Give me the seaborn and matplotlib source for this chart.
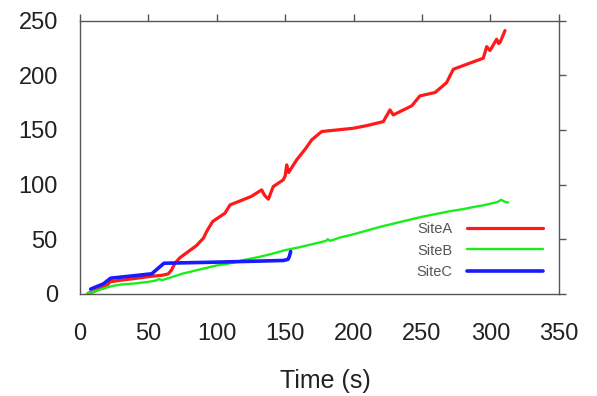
import matplotlib
matplotlib.use("Agg")
import matplotlib.pyplot as plt
import seaborn as sns
import pandas as pd

# ---- data ----
siteA_t = [6, 10, 15, 20, 22, 30, 40, 51, 60, 64.6, 67, 69.4, 73, 79.2, 85, 90.2, 93, 97,
           106, 109.7, 115, 125, 132.8, 135, 137.7, 141.3, 148.6, 150, 151.1, 152.5, 153.5,
           158.4, 165, 169.4, 176.7, 199.8, 210, 221.7, 226.6, 229, 242.5, 248.5, 259.5,
           265, 268, 272.9, 294.8, 297.3, 299.7, 304.6, 306, 307, 310.7]
siteA_v = [0.5, 2, 5, 8, 11, 12.5, 14, 15.9, 17, 18.3, 22, 28, 33, 38.7, 44, 50.9, 58, 66.2,
           73.8, 81.4, 84, 89, 95.1, 90, 86.6, 98.2, 104.3, 108, 118, 111, 113,
           122.6, 133, 140.9, 148.5, 151.5, 154, 157.6, 168.3, 163.7, 172, 181.1, 184.2,
           190, 193.3, 205.5, 215.6, 226.2, 222.6, 233, 229, 229.9, 240.9]

siteB_t = [5, 10, 15, 20, 25, 30, 40, 50, 55, 58, 60, 65, 75, 85, 95, 100, 110, 120, 130,
           140, 150, 160, 170, 180, 181, 183, 190, 200, 210, 220, 230, 240, 250, 260, 270,
           280, 290, 295, 300, 305, 308, 310, 313]
siteB_v = [0, 2, 4, 6, 7.5, 8.5, 9.5, 11, 12, 13.5, 12.5, 14.5, 18.5, 21.5, 24.5, 26, 28,
           31, 33.5, 36.5, 40, 42.5, 45.5, 48.5, 50, 48.5, 51.5, 54.5, 58, 61.5, 64.5, 67.5,
           70.5, 73, 75.5, 77.5, 80, 81, 82.5, 84, 86, 84.5, 83.5]

siteC_t = [7.8, 12, 17.1, 22.4, 52.4, 61.4, 100, 148.6, 152, 153, 154]
siteC_v = [4.3, 6.5, 9.1, 14.3, 18.3, 28, 29, 30.5, 31.5, 34.1, 38.7]

sites = ["SiteA", "SiteB", "SiteC"]
colors = {"SiteA": "#ff1a1a", "SiteB": "#1aee1a", "SiteC": "#1a1aff"}
widths = {"SiteA": 2.3, "SiteB": 1.7, "SiteC": 2.6}

df = pd.concat([
    pd.DataFrame({"time": siteA_t, "value": siteA_v, "site": "SiteA"}),
    pd.DataFrame({"time": siteB_t, "value": siteB_v, "site": "SiteB"}),
    pd.DataFrame({"time": siteC_t, "value": siteC_v, "site": "SiteC"}),
])

sns.set_style("white")
plt.rcParams["font.family"] = ["Liberation Sans", "DejaVu Sans"]

fig = plt.figure(figsize=(5.97, 3.96), dpi=100)
ax = fig.add_axes([0.134, 0.258, 0.802, 0.690])

for s in sites:
    sns.lineplot(data=df[df["site"] == s], x="time", y="value", color=colors[s],
                 linewidth=widths[s], sort=False, estimator=None, ax=ax, label=s)

ax.set_xlim(0, 350)
ax.set_ylim(0, 250)
ax.set_xticks(range(0, 351, 50))
ax.set_yticks(range(0, 251, 50))
ax.set_ylabel("")
ax.set_xlabel("Time (s)", fontsize=18, color="#222222", labelpad=17)
ax.xaxis.label.set_x(0.512)

for sp in ax.spines.values():
    sp.set_visible(True)
    sp.set_color("#555555")
    sp.set_linewidth(1.0)

ax.tick_params(axis="both", direction="out", length=5, width=1, color="#555555",
               labelsize=17, labelcolor="#222222", top=True, right=True)
ax.tick_params(axis="x", pad=16)
ax.tick_params(axis="y", pad=11)

handles, labels = ax.get_legend_handles_labels()
leg = ax.legend(handles, labels, loc="lower right", bbox_to_anchor=(0.967, 0.055),
                frameon=False, markerfirst=False, fontsize=10.5, handlelength=5.2,
                labelspacing=0.5, handletextpad=1.0, borderpad=0, borderaxespad=0)
for t in leg.get_texts():
    t.set_color("#555555")

fig.savefig("out.png", dpi=100)
